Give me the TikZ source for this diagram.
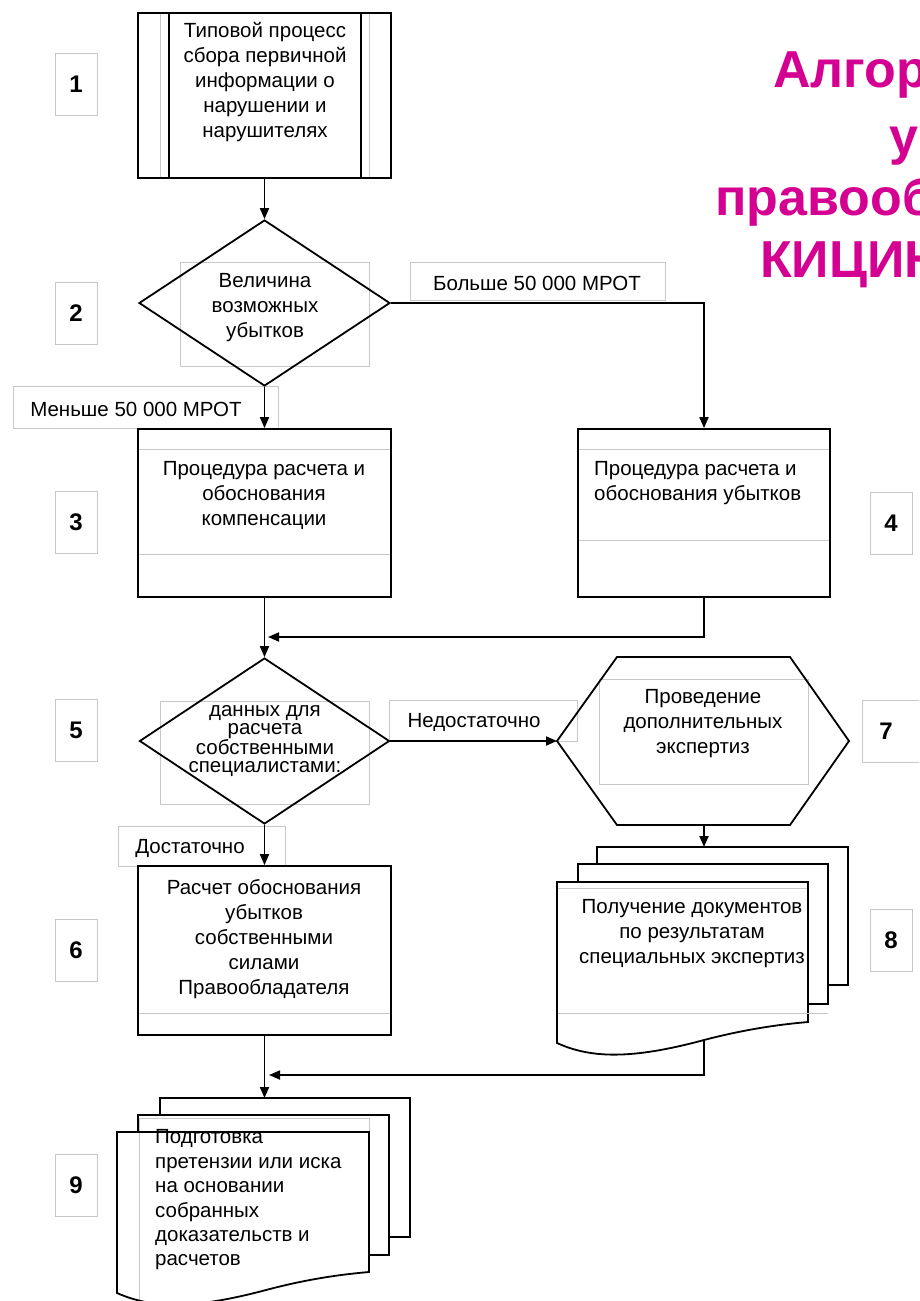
\documentclass[tikz,border=0pt]{standalone}
\usepackage{fontspec}
\setmainfont{Liberation Sans}
\usetikzlibrary{arrows.meta,shapes.geometric}
\definecolor{ttlcol}{RGB}{212,0,146}
\definecolor{frm}{RGB}{200,200,200}
\tikzset{
 blk/.style={draw=black, line width=1.8pt},
 gfr/.style={draw=frm, line width=1pt},
 txt/.style={font=\fontsize{20.5}{25}\selectfont, align=center, inner sep=0pt},
 numbox/.style={draw=frm, line width=1pt, minimum width=42pt, minimum height=62pt, inner sep=0pt, font=\bfseries\fontsize{24}{24}\selectfont},
 conn/.style={line width=1.8pt},
 arr/.style={conn, -{Triangle[length=11pt,width=9pt]}},
 ttl/.style={font=\bfseries\fontsize{52}{60}\selectfont, text=ttlcol, inner sep=0pt, anchor=base west},
}
\begin{document}
\begin{tikzpicture}[x=1pt,y=-1pt]
\useasboundingbox (0,0) rectangle (919,1301);
\fill[white] (0,0) rectangle (919,1301);
\clip (0,0) rectangle (919,1301);

% title
\node[ttl] (ttl1) at (773,87) {Алгори};
\node[ttl] (ttl2) at (889,154) {у};
\node[ttl] (ttl3) at (715,215) {правооб};
\node[ttl] (ttl4) at (760,277) {КИЦИН};

% number boxes
\node[numbox] (n1) at (76,84) {1};
\node[numbox] (n2) at (76,313) {2};
\node[numbox] (n3) at (76,522) {3};
\node[numbox] (n4) at (891,523) {4};
\node[numbox] (n5) at (76,730) {5};
\node[numbox] (n6) at (76,950) {6};
\node[numbox, minimum width=64pt] (n7) at (894,731) {};
\node[font=\bfseries\fontsize{24}{24}\selectfont, inner sep=0pt] (n7t) at (886,731) {7};
\node[numbox] (n8) at (891,940) {8};
\node[numbox] (n9) at (76,1185) {9};

% gray label boxes
\node[gfr, minimum width=255pt, minimum height=38pt, inner sep=0pt] (lbb) at (537.5,281) {};
\node[gfr, minimum width=265pt, minimum height=42pt, inner sep=0pt] (lbm) at (145.5,407) {};
\node[gfr, minimum width=188pt, minimum height=41pt, inner sep=0pt] (lbn) at (483,720.5) {};
\node[gfr, minimum width=167pt, minimum height=40pt, inner sep=0pt] (lbd) at (201.5,846) {};

% gray frames in decisions / hexagon
\draw[gfr] (180,262) rectangle (369,366);
\draw[gfr] (160,701) rectangle (369,804);
\draw[gfr] (599,679) rectangle (808,784);

% box 1 (predefined process)
\node[blk, minimum width=253pt, minimum height=165pt, inner sep=0pt] (b1) at (264.5,95.5) {};
\draw[gfr] (160,14) -- (160,177);
\draw[gfr] (369,14) -- (369,177);
\draw[blk] (169,13) -- (169,178);
\draw[blk] (361,13) -- (361,178);

% decision 2
\node[blk, diamond, minimum width=251pt, minimum height=166pt, inner sep=0pt] (d2) at (264.5,303) {};

% box 3
\node[blk, minimum width=253pt, minimum height=168pt, inner sep=0pt] (b3) at (264.5,513) {};
\draw[gfr] (139,449) -- (390,449);
\draw[gfr] (139,554) -- (390,554);

% box 4
\node[blk, minimum width=252pt, minimum height=168pt, inner sep=0pt] (b4) at (704,513) {};
\draw[gfr] (579,449) -- (829,449);
\draw[gfr] (579,540) -- (829,540);

% decision 5
\node[blk, diamond, minimum width=250pt, minimum height=166pt, inner sep=0pt] (d5) at (264.5,741) {};

% hexagon 7
\coordinate (h7w) at (557,741);
\coordinate (h7s) at (704,825);
\draw[blk, line join=miter] (617,657) -- (790,657) -- (849,741) -- (790,825) -- (617,825) -- (h7w) -- cycle;

% box 6
\node[blk, minimum width=253pt, minimum height=169pt, inner sep=0pt] (b6) at (264.5,950.5) {};
\draw[gfr] (139,1013) -- (390,1013);

% document stack 8
\filldraw[blk, fill=white] (597,847) rectangle (848,985);
\filldraw[blk, fill=white] (578,864) rectangle (828,1004);
\filldraw[blk, fill=white] (557,882) -- (808,882) -- (808,1022) .. controls (785,1024) and (750,1028) .. (704,1040) .. controls (630,1060) and (590,1058) .. (557,1043) -- cycle;
\draw[gfr] (558,888) -- (807,888);
\draw[gfr] (558,1013) -- (828,1013);
\coordinate (doc8top) at (704,847);
\coordinate (doc8bot) at (704,1040);

% document stack 9
\filldraw[blk, fill=white] (160,1098) rectangle (410,1237);
\filldraw[blk, fill=white] (138,1115) rectangle (389,1255);
\fill[white] (117,1132) -- (369,1132) -- (369,1272) .. controls (346,1274) and (311,1278) .. (266,1290) .. controls (191,1310) and (151,1308) .. (117,1293) -- cycle;
\draw[gfr] (139,1305) -- (139,1118) -- (369,1118) -- (369,1132);
\draw[blk] (117,1132) -- (369,1132) -- (369,1272) .. controls (346,1274) and (311,1278) .. (266,1290) .. controls (191,1310) and (151,1308) .. (117,1293) -- cycle;
\coordinate (doc9top) at (264.5,1098);

% junctions
\coordinate (j1) at (268,637);
\coordinate (j2) at (269,1075);

% connectors
\draw[arr] (b1.south) -- (d2.north);
\draw[arr] (d2.south) -- (b3.north);
\draw[arr] (d2.east) -| (b4.north);
\draw[arr] (b3.south) -- (d5.north);
\draw[arr] (b4.south) |- (j1);
\draw[arr] (d5.east) -- (h7w);
\draw[arr] (d5.south) -- (b6.north);
\draw[arr] (h7s) -- (doc8top);
\draw[arr] (b6.south) -- (doc9top);
\draw[arr] (doc8bot) |- (j2);

% texts
\node[txt] (t1) at (265,82) {Типовой процесс\\сбора первичной\\информации о\\нарушении и\\нарушителях};
\node[txt] (t2) at (265,308) {Величина\\возможных\\убытков};
\node[txt] (tlb) at (537,283) {Больше 50 000 МРОТ};
\node[txt] (tlm) at (136,409) {Меньше 50 000 МРОТ};
\node[txt] (t3) at (264,495) {Процедура расчета и\\обоснования\\компенсации};
\node[txt, align=left, anchor=west] (t4) at (594,483) {Процедура расчета и\\обоснования убытков};
\node[txt, font=\fontsize{20.5}{18}\selectfont] (t5) at (265,741) {данных для\\расчета\\собственными\\специалистами:};
\node[txt] (tln) at (474,722) {Недостаточно};
\node[txt] (t7) at (703,724) {Проведение\\дополнительных\\экспертиз};
\node[txt] (tld) at (190,848) {Достаточно};
\node[txt] (t6) at (264,939) {Расчет обоснования\\убытков\\собственными\\силами\\Правообладателя};
\node[txt] (t8) at (692,934) {Получение документов\\по результатам\\специальных экспертиз};
\node[txt, align=left, anchor=west, font=\fontsize{20.5}{24.4}\selectfont] (t9) at (155,1200) {Подготовка\\претензии или иска\\на основании\\собранных\\доказательств и\\расчетов};
\end{tikzpicture}
\end{document}
